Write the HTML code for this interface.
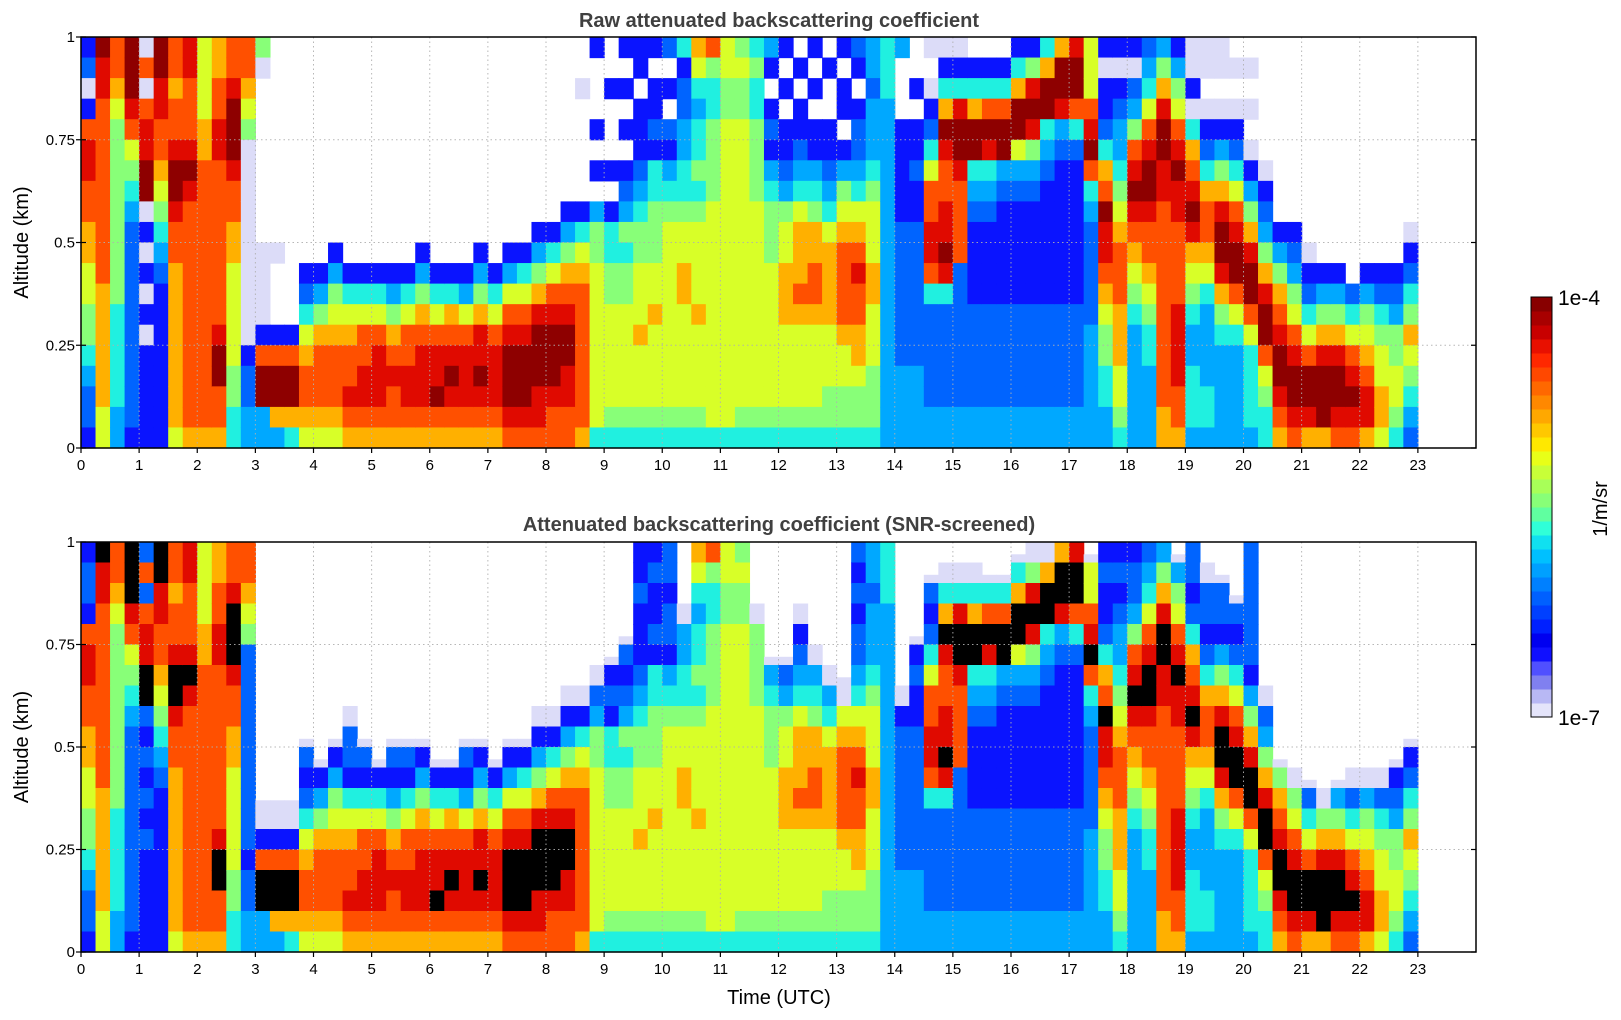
<!DOCTYPE html>
<html>
<head>
<meta charset="utf-8">
<style>
  html, body { margin: 0; padding: 0; background: #ffffff; }
  body { width: 1621px; height: 1020px; overflow: hidden; }
  svg { display: block; }
  text { font-family: "Liberation Sans", "DejaVu Sans", sans-serif; }
</style>
</head>
<body>
<svg id="fig" width="1621" height="1020" viewBox="0 0 1621 1020" xmlns="http://www.w3.org/2000/svg">
  <g id="panel1"></g>
  <g id="panel2"></g>
  <g id="cbar"></g>
</svg>
<script>
// ---- data: per 15-minute column profiles (top row = 0.95-1.0 km, bottom = 0-0.05 km)
// level codes: '.' no signal, 'a' very weak, '0'..'9' increasing log10 backscatter
const timeStep = 0.25;
const altStep = 0.05;
const profiles = [
  "01a07|88776|65544|32110","98877|77777|77666|66655","77654|44444|44433|33322","99987|54321|11111|11110",
  "a7a78|899a0|a0a0a|00000","99887|76543|21000|00000","77677|89987|76666|66665","88777|89877|77777|77776",
  "55556|67777|77777|77776","66778|87777|77778|99776","77899|98776|65555|54433","77654|aaaaa|aaaaa|01122",
  "4a...|.....|aaaa0|79922",".....|.....|a...0|79962",".....|.....|....0|79963",".....|.....|.0135|67765",
  ".....|.....|.0246|77765",".....|.....|02456|77765",".....|.....|.0356|77876",".....|.....|.0357|78876",
  ".....|.....|.0357|88876",".....|.....|.0246|78776",".....|.....|.0357|78876",".....|.....|02467|88876",
  ".....|.....|.0357|88976",".....|.....|.0367|89876",".....|.....|.0257|88876",".....|.....|02468|89876",
  ".....|.....|.0357|88876",".....|.....|02578|99987",".....|.....|03578|99987",".....|....0|24689|99887",
  ".....|....0|35789|99877",".....|...02|46789|98877","..a..|...03|56777|77776","0...0|.0.24|45555|55553",
  "..0..|.0.03|34455|55543","0.0.0|.0124|34455|55543","00.00|01234|45556|55543","0.001|03344|45565|55543",
  "1.0.1|02345|55555|55543","30112|23345|56655|55543","65323|34345|55565|55543","74334|44455|55555|55553",
  "55445|55555|55555|55553","45445|55555|55555|55543","34334|44455|55555|55543","20.01|02344|45555|55543",
  "0.0.0|01245|56665|55543",".0.00|12356|66765|55543","0.0.0|02346|67765|55543",".0..0|01235|66665|55443",
  "0.00.|02456|77776|55443","10.01|12356|78776|65443","22122|23455|56655|54443","33322|22222|22222|22222",
  "2...0|00001|11111|12222","..0.0|01001|11111|12222","a.a01|35778|87311|11122","a0369|87788|98311|11122",
  "a0389|98777|71111|11122",".0369|93210|00011|11122",".0379|83210|00011|11122",".0379|92100|00011|11122",
  "03699|52100|00011|11122","04898|42100|00011|11122","36993|21000|00011|11122","69982|10000|00011|11122",
  "89973|10000|00011|11122","55578|97321|11112|22222","0a001|36798|87654|43322","0a012|23456|77766|65543",
  "0a124|78987|65432|22222","12357|89987|76543|32222","24689|98877|77777|77766","02457|89887|77788|88776",
  "aa0a3|67898|65432|23332","aa.a0|13677|65322|22332","aa.a0|24689|98643|22222",".a.a0|13578|99753|22222",
  ".a.a.|a0246|89975|33332",".....|.a012|46899|75433",".....|....0|24678|99876",".....|....0|12457|89987",
  ".....|.....|a0135|79986",".....|.....|.0246|89996",".....|.....|.0246|89987",".....|.....|..135|78987",
  ".....|.....|.0245|67886",".....|.....|.0134|55665",".....|.....|.0124|45543",".....|....a|01346|54321"
];
// altitude (km) above which the SNR-screened product is masked, per column
const snrTop = [
  1,1,1,1, 1,1,1,1, 1,1,1,1,
  0.32,0.32,0.32,0.5,
  0.45,0.5,0.55,0.5, 0.45,0.5,0.48,0.5, 0.45,0.45,0.5,0.48, 0.45,0.5,0.5,0.55, 0.55,0.6,
  0.6,0.65,
  0.68,0.75,1,1, 1,0.8,1,1, 1,1,0.8,0.68, 0.7,0.8,0.72,0.65, 0.62,1,1,1,
  0.6,0.75,0.88,0.9, 0.9,0.9,0.88,0.88, 0.95,0.97,0.97,1, 1,0.95,1,1,
  1,1,1,0.95, 1,0.9,0.88,0.85, 1,0.6,0.45,0.4, 0.38,0.35,0.38,0.42, 0.42,0.4,0.45,0.5
];
const xTicks = [0,1,2,3,4,5,6,7,8,9,10,11,12,13,14,15,16,17,18,19,20,21,22,23];
const yTicks = [0, 0.25, 0.5, 0.75, 1];
const yTickLabels = ["0","0.25","0.5","0.75","1"];

// ---- layout
const NS = "http://www.w3.org/2000/svg";
const X0 = 81, X1 = 1476, T0 = 0, T1 = 24;
const xScale = t => X0 + (t - T0) / (T1 - T0) * (X1 - X0);
const panels = [
  {g: document.getElementById('panel1'), top: 37, bottom: 448, title: "Raw attenuated backscattering coefficient", titleY: 27, screened: false, nm: 'raw'},
  {g: document.getElementById('panel2'), top: 542, bottom: 952, title: "Attenuated backscattering coefficient (SNR-screened)", titleY: 531, screened: true, nm: 'snr'}
];
const colors = {
  'a': '#dcdcf8', '0': '#0a14ff', '1': '#0064ff', '2': '#00a8ff', '3': '#20f0e0', '4': '#88ff78',
  '5': '#d8ff28', '6': '#ffb000', '7': '#ff5000', '8': '#e00a00', '9': '#8e0000', 'k': '#000000'
};
function mk(tag, attrs, parent) {
  const el = document.createElementNS(NS, tag);
  for (const k in attrs) el.setAttribute(k, attrs[k]);
  parent.appendChild(el);
  return el;
}
const nRows = 20;

panels.forEach(p => {
  const yScale = a => p.bottom - a * (p.bottom - p.top);
  const cells = mk('g', {}, p.g);
  
  
  profiles.forEach((prof, ci) => {
    const s = prof.replace(/\|/g, '');
    const t0 = ci * timeStep, t1 = t0 + timeStep;
    const xa = xScale(t0), xb = xScale(t1);
    for (let r = 0; r < nRows; r++) {
      let c = s[r] || '.';
      let aTop = 1 - r * altStep, aBot = aTop - altStep;
      const aMid = (aTop + aBot) / 2;
      if (p.screened) {
        const top = snrTop[ci];
        if (aMid > top) {
          if (aBot < top) { c = 'a'; }
          else if (aBot - top < 0.03 && top < 1) { c = 'a'; aTop = aBot + 0.02; }
          else c = '.';
        } else {
          if (c === '.' || c === 'a') c = '1';
          if (c === '9') c = 'k';
        }
      }
      if (c === '.') continue;
      const rect = mk('rect', {x: xa.toFixed(2), y: yScale(aTop).toFixed(2),
        width: (xb - xa + 0.6).toFixed(2), height: (yScale(aBot) - yScale(aTop) + 0.6).toFixed(2),
        fill: colors[c]}, cells);
      
      
    }
  });
  // grid
  const grid = mk('g', {stroke: '#b0b0b0', 'stroke-width': 1, 'stroke-dasharray': '1.5,3', opacity: 0.9}, p.g);
  
  
  xTicks.forEach(t => { if (t > 0) mk('line', {x1: xScale(t), x2: xScale(t), y1: p.top, y2: p.bottom}, grid); });
  yTicks.forEach(v => { if (v > 0 && v < 1) mk('line', {x1: X0, x2: X1, y1: yScale(v), y2: yScale(v)}, grid); });
  // frame
  const frame = mk('rect', {x: X0, y: p.top, width: X1 - X0, height: p.bottom - p.top, fill: 'none', stroke: '#000', 'stroke-width': 1.5}, p.g);
  
  
  // x ticks
  const xt = mk('g', {}, p.g);
  
  
  xTicks.forEach(t => {
    mk('line', {x1: xScale(t), x2: xScale(t), y1: p.bottom, y2: p.bottom + 5, stroke: '#000', 'stroke-width': 1.2}, xt);
    const lb = mk('text', {x: xScale(t), y: p.bottom + 22, 'font-size': 15, 'text-anchor': 'middle', fill: '#000'}, xt);
    lb.textContent = String(t);
    
    
  });
  // y ticks
  const yt = mk('g', {}, p.g);
  
  
  yTicks.forEach((v, i) => {
    mk('line', {x1: X0 - 5, x2: X0 + 5, y1: yScale(v), y2: yScale(v), stroke: '#000', 'stroke-width': 1.2}, yt);
    mk('line', {x1: X1 - 5, x2: X1, y1: yScale(v), y2: yScale(v), stroke: '#000', 'stroke-width': 1.2}, yt);
    const lb = mk('text', {x: X0 - 6, y: yScale(v) + 5, 'font-size': 15, 'text-anchor': 'end', fill: '#000'}, yt);
    lb.textContent = yTickLabels[i];
    
    
  });
  const yl = mk('text', {x: 0, y: 0, 'font-size': 20, 'text-anchor': 'middle', fill: '#000',
    transform: `translate(28,${(p.top + p.bottom) / 2}) rotate(-90)`}, p.g);
  yl.textContent = 'Altitude (km)';
  
  
  const ti = mk('text', {x: 779, y: p.titleY, 'font-size': 20, 'font-weight': 'bold', 'text-anchor': 'middle', fill: '#404040'}, p.g);
  ti.textContent = p.title;
  
  
});

const xl = mk('text', {x: 779, y: 1004, 'font-size': 20, 'text-anchor': 'middle', fill: '#000'}, document.getElementById('fig'));
xl.textContent = 'Time (UTC)';



// ---- colorbar
const cb = document.getElementById('cbar');
const CBX = 1531, CBW = 21, CBT = 297, CBB = 717;
const cbShades = ['#e4e4fa','#b8b8f4','#8080f0','#5050ff','#1010ff','#0000f0','#0020ff','#0040ff','#0060ff','#0080ff','#00a0ff','#00c0ff','#10e0f0','#30ffd8','#60ffa0','#88ff78','#a8ff58','#c8ff38','#e8ff18','#ffe800','#ffc800','#ffa800','#ff8800','#ff6800','#ff4800','#ff2800','#e81000','#c80000','#a80000','#880000'];
const segH = (CBB - CBT) / cbShades.length;
cbShades.forEach((col, i) => {
  const r = mk('rect', {x: CBX, y: (CBB - (i + 1) * segH).toFixed(2), width: CBW, height: (segH + 0.5).toFixed(2), fill: col}, cb);
  
  
});
const cbf = mk('rect', {x: CBX, y: CBT, width: CBW, height: CBB - CBT, fill: 'none', stroke: '#000', 'stroke-width': 1}, cb);


const cbHi = mk('text', {x: 1558, y: CBT + 8, 'font-size': 21, fill: '#000'}, cb);
cbHi.textContent = '1e-4';


const cbLo = mk('text', {x: 1558, y: CBB + 8, 'font-size': 21, fill: '#000'}, cb);
cbLo.textContent = '1e-7';


const cbU = mk('text', {x: 0, y: 0, 'font-size': 20, 'text-anchor': 'middle', fill: '#000', transform: 'translate(1607,509) rotate(-90)'}, cb);
cbU.textContent = '1/m/sr';


</script>
</body>
</html>
